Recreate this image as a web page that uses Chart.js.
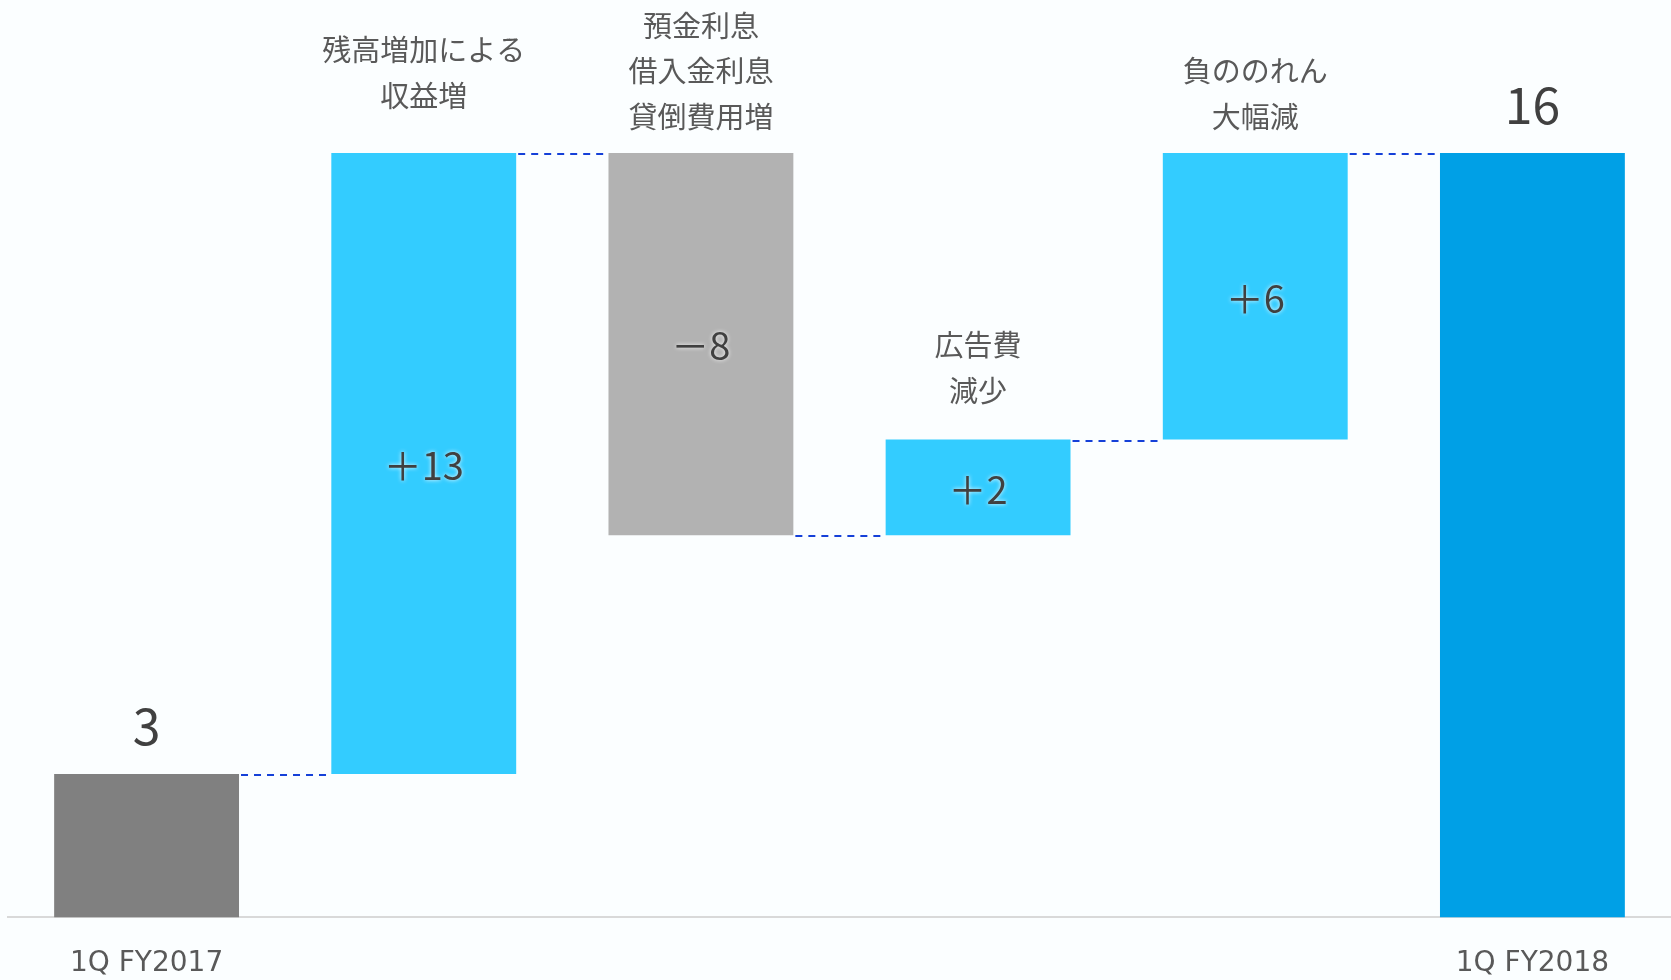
<!DOCTYPE html>
<html>
<head>
<meta charset="utf-8">
<script src="https://cdn.jsdelivr.net/npm/chart.js@4"></script>
<style>
  html, body { margin: 0; padding: 0; background: #fbfeff; }
  #wrap { width: 1671px; height: 980px; }
</style>
</head>
<body>
<div id="wrap"><canvas id="waterfall"></canvas></div>
<script>
// ---- data ----
const categories = ['1Q FY2017', '', '', '', '', '1Q FY2018'];
const startValue = 3;
const deltas = [13, -8, 2, 6];
const endValue = 16;
const valueLabels = ['3', '＋13', '－8', '＋2', '＋6', '16'];
const notes = [
    [],
    ['残高増加による', '収益増'],
    ['預金利息', '借入金利息', '貸倒費用増'],
    ['広告費', '減少'],
    ['負ののれん', '大幅減'],
    []
];

// floating ranges for the waterfall: [low, high] per bar
const ranges = [[0, startValue]];
let running = startValue;
deltas.forEach(d => {
    const next = running + d;
    ranges.push([Math.min(running, next), Math.max(running, next)]);
    running = next;
});
ranges.push([0, endValue]);

// level each connector sits at (end of bar i)
const levels = [startValue];
running = startValue;
deltas.forEach(d => { running += d; levels.push(running); });

const barColors = ['#808080', '#33ccff', '#b2b2b2', '#33ccff', '#33ccff', '#00a0e6'];
const noteGap = [0, 57, 36, 49, 36, 0];   // px between note block and bar top

const waterfallDecor = {
    id: 'waterfallDecor',
    afterDatasetsDraw(chart) {
        const { ctx, scales: { y } } = chart;
        const bars = chart.getDatasetMeta(0).data;

        // dashed connectors
        ctx.save();
        ctx.strokeStyle = '#1540d8';
        ctx.lineWidth = 2;
        ctx.setLineDash([7, 6]);
        for (let i = 0; i < bars.length - 1; i++) {
            const yy = Math.round(y.getPixelForValue(levels[i])) + 1;
            ctx.beginPath();
            ctx.moveTo(bars[i].x + bars[i].width / 2 + 2, yy);
            ctx.lineTo(bars[i + 1].x - bars[i + 1].width / 2, yy);
            ctx.stroke();
        }
        ctx.restore();

        // value labels
        ctx.save();
        ctx.textAlign = 'center';
        ctx.textBaseline = 'middle';
        bars.forEach((bar, i) => {
            const top = y.getPixelForValue(ranges[i][1]);
            const bottom = y.getPixelForValue(ranges[i][0]);
            if (i === 0 || i === bars.length - 1) {
                ctx.font = '50px "Noto Sans CJK JP", "Noto Sans", sans-serif';
                ctx.fillStyle = '#404040';
                ctx.fillText(valueLabels[i], bar.x, top - 48);
            } else {
                ctx.font = '38px "Noto Sans CJK JP", "Noto Sans", sans-serif';
                ctx.fillStyle = '#404040';
                ctx.shadowColor = 'rgba(255,255,255,0.9)';
                ctx.shadowBlur = 4;
                ctx.fillText(valueLabels[i], bar.x, (top + bottom) / 2 + 2);
                ctx.shadowBlur = 0;
            }
        });
        ctx.restore();

        // category notes above bars
        ctx.save();
        ctx.textAlign = 'center';
        ctx.textBaseline = 'middle';
        ctx.font = '29px "Noto Sans CJK JP", sans-serif';
        ctx.fillStyle = '#595959';
        const lineH = 45.5;
        bars.forEach((bar, i) => {
            const lines = notes[i];
            if (!lines.length) return;
            const top = y.getPixelForValue(ranges[i][1]);
            const lastY = top - noteGap[i];
            lines.forEach((t, k) => {
                ctx.fillText(t, bar.x, lastY - (lines.length - 1 - k) * lineH);
            });
        });
        ctx.restore();
    }
};

new Chart(document.getElementById('waterfall'), {
    type: 'bar',
    data: {
        labels: categories,
        datasets: [{
            data: ranges,
            backgroundColor: barColors,
            borderWidth: 0,
            barPercentage: 0.667,
            categoryPercentage: 1
        }]
    },
    options: {
        responsive: true,
        maintainAspectRatio: false,
        animation: false,
        layout: { padding: { left: 8, right: 0, top: 0, bottom: -31 } },
        plugins: { legend: { display: false }, tooltip: { enabled: false } },
        scales: {
            x: {
                grid: { display: false, drawTicks: false },
                border: { display: true, color: '#d9d9d9', width: 2 },
                ticks: {
                    padding: 30,
                    color: '#595959',
                    font: { family: '"DejaVu Sans", Verdana, sans-serif', size: 28 },
                    maxRotation: 0,
                    autoSkip: false
                }
            },
            y: {
                display: false,
                min: 0,
                max: 19.2
            }
        }
    },
    plugins: [waterfallDecor]
});
</script>
</body>
</html>
